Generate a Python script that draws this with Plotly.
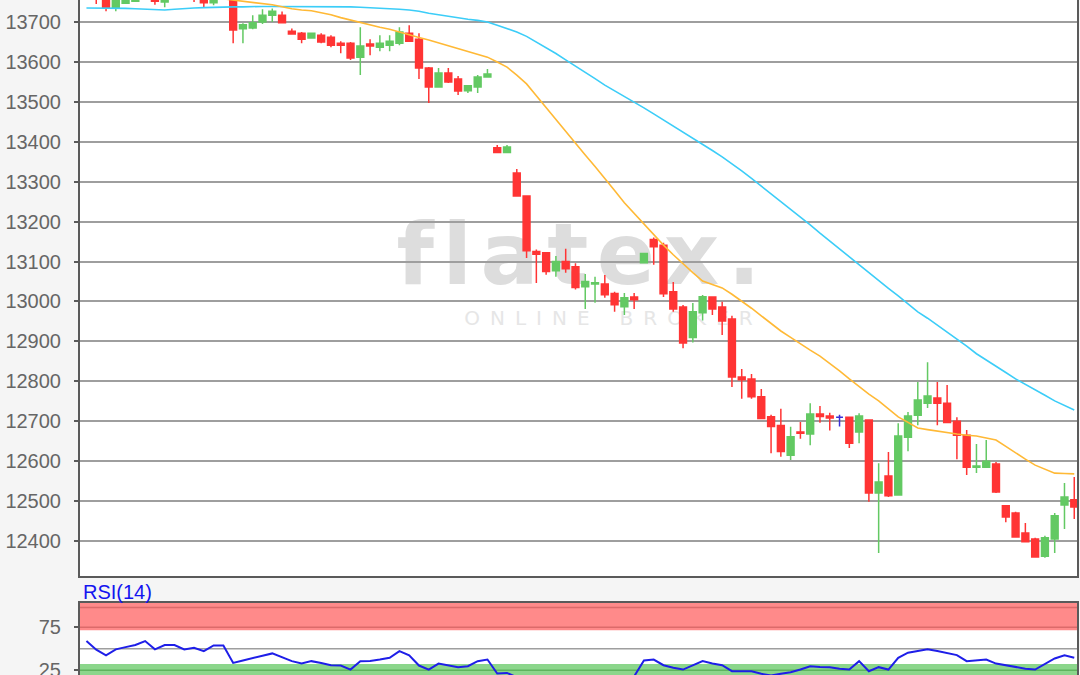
import plotly.graph_objects as go

# ---------------- data ----------------
open_ = [13790, 13790, 13770, 13735, 13747, 13752, 13770, 13775, 13750, 13772,
         13790, 13775, 13775, 13748, 13770, 13775, 13683, 13685, 13700, 13717,
         13717, 13677, 13672, 13660, 13667, 13662, 13647, 13647, 13612, 13645,
         13637, 13642, 13647, 13672, 13657, 13585, 13537, 13572, 13557, 13528,
         13537, 13562, 13385, 13373, 13322, 13264, 13125, 13122, 13077, 13100,
         13087, 13037, 13044, 13044, 13020, 12987, 13011, 13097, 13155, 13141,
         13024, 12986, 12910, 12972, 13011, 12986, 12956, 12811, 12806, 12761,
         12711, 12689, 12615, 12673, 12668, 12718, 12713, 12710, 12710, 12673,
         12703, 12520, 12563, 12515, 12660, 12715, 12745, 12758, 12745, 12700,
         12665, 12585, 12585, 12593, 12488, 12470, 12420, 12405, 12362, 12405,
         12490, 12503]
high = [13800, 13800, 13780, 13770, 13772, 13778, 13790, 13785, 13782, 13795,
        13800, 13785, 13785, 13780, 13790, 13785, 13697, 13717, 13732, 13734,
        13726, 13684, 13675, 13673, 13672, 13667, 13652, 13650, 13687, 13657,
        13667, 13667, 13687, 13692, 13672, 13587, 13585, 13585, 13565, 13542,
        13567, 13582, 13392, 13392, 13332, 13265, 13130, 13124, 13114, 13132,
        13096, 13069, 13062, 13066, 13024, 13021, 13021, 13121, 13160, 13147,
        13049, 12991, 12996, 13016, 13012, 12999, 12964, 12831, 12818, 12781,
        12716, 12731, 12686, 12698, 12745, 12738, 12721, 12716, 12712, 12720,
        12705, 12595, 12623, 12695, 12723, 12798, 12848, 12798, 12791, 12710,
        12678, 12643, 12653, 12598, 12488, 12473, 12445, 12408, 12413, 12470,
        12545, 12560]
low = [13770, 13745, 13727, 13727, 13745, 13750, 13762, 13743, 13737, 13765,
       13768, 13750, 13737, 13742, 13765, 13647, 13647, 13682, 13695, 13700,
       13698, 13669, 13647, 13659, 13647, 13637, 13622, 13605, 13567, 13617,
       13627, 13627, 13642, 13650, 13557, 13497, 13535, 13547, 13517, 13522,
       13522, 13562, 13372, 13372, 13262, 13109, 13046, 13067, 13062, 13072,
       13030, 12981, 12997, 13009, 12974, 12966, 12981, 13096, 13092, 13011,
       12974, 12883, 12897, 12952, 12966, 12916, 12786, 12756, 12756, 12706,
       12620, 12611, 12603, 12656, 12640, 12696, 12677, 12687, 12633, 12645,
       12498, 12370, 12510, 12515, 12625, 12690, 12733, 12690, 12695, 12605,
       12565, 12570, 12585, 12520, 12447, 12410, 12398, 12358, 12358, 12370,
       12430, 12455]
close = [13780, 13765, 13737, 13760, 13765, 13770, 13780, 13752, 13772, 13785,
         13775, 13758, 13748, 13770, 13782, 13680, 13693, 13698, 13717, 13727,
         13698, 13670, 13657, 13672, 13650, 13642, 13642, 13610, 13640, 13640,
         13647, 13652, 13675, 13652, 13585, 13537, 13572, 13550, 13527, 13540,
         13562, 13570, 13373, 13387, 13264, 13127, 13118, 13075, 13100, 13082,
         13035, 13050, 13047, 13017, 12992, 13009, 13004, 13120, 13137, 13019,
         12981, 12896, 12974, 13012, 12981, 12951, 12811, 12804, 12761, 12707,
         12687, 12624, 12661, 12670, 12718, 12712, 12708, 12710, 12645, 12713,
         12520, 12548, 12513, 12663, 12713, 12753, 12763, 12745, 12697, 12665,
         12585, 12588, 12600, 12523, 12460, 12410, 12398, 12360, 12408, 12463,
         12510, 12485]
ma_orange = [13800, 13797, 13794, 13791, 13788, 13785, 13782, 13779, 13776, 13773,
             13770, 13767, 13764, 13761, 13758, 13755, 13752, 13748, 13746, 13743,
             13738, 13733, 13730, 13728, 13723, 13718, 13711, 13705, 13698, 13692,
             13687, 13682, 13675, 13667, 13661, 13655, 13648, 13642, 13635, 13627,
             13620, 13612, 13600, 13587, 13567, 13545, 13515, 13485, 13456, 13427,
             13397, 13367, 13338, 13309, 13278, 13247, 13220, 13194, 13167, 13141,
             13117, 13094, 13072, 13051, 13042, 13034, 13018, 13001, 12983, 12964,
             12945, 12926, 12910, 12893, 12878, 12863, 12845, 12826, 12806, 12786,
             12768, 12751, 12731, 12711, 12697, 12683, 12679, 12675, 12671, 12668,
             12665, 12663, 12658, 12653, 12637, 12620, 12605, 12590, 12580, 12570,
             12569, 12568]
ma_cyan = [13735, 13735, 13735, 13735, 13734, 13733, 13732, 13730, 13730, 13732,
           13734, 13735, 13736, 13737, 13737, 13738, 13738, 13739, 13739, 13739,
           13739, 13739, 13739, 13739, 13739, 13739, 13739, 13738, 13737, 13736,
           13735, 13734, 13732, 13730, 13727, 13722, 13718, 13715, 13711, 13707,
           13704, 13700, 13692, 13684, 13675, 13664, 13650, 13636, 13621, 13605,
           13590, 13575, 13558, 13542, 13528, 13515, 13500, 13485, 13470, 13455,
           13440, 13424, 13409, 13394, 13378, 13362, 13345, 13327, 13308, 13289,
           13269, 13249, 13231, 13212, 13192, 13171, 13151, 13131, 13111, 13091,
           13071, 13051, 13033, 13014, 12994, 12974, 12958, 12941, 12924, 12906,
           12888, 12869, 12854, 12838, 12822, 12806, 12793, 12779, 12765, 12751,
           12740, 12728]
rsi = [59.0, 49.0, 42.4, 49.4, 52.0, 54.5, 59.0, 49.4, 54.4, 54.4,
       49.4, 51.3, 47.4, 54.0, 54.0, 33.7, 36.5, 39.6, 42.0, 44.7,
       40.0, 35.7, 32.9, 35.7, 33.5, 31.0, 30.6, 25.9, 35.7, 36.0,
       37.5, 39.6, 47.4, 42.4, 30.6, 25.9, 32.9, 30.5, 28.7, 29.8,
       35.7, 37.6, 21.3, 22.0, 17.0, 12.0, 12.0, 11.0, 12.0, 12.0,
       10.0, 11.0, 11.0, 10.0, 9.0, 10.0, 18.0, 36.5, 37.6, 31.0,
       28.0, 25.9, 31.0, 35.7, 33.0, 31.0, 24.0, 24.0, 24.0, 21.0,
       19.0, 21.0, 22.8, 26.0, 29.8, 29.0, 28.7, 27.0, 25.9, 35.7,
       24.0, 28.7, 25.9, 39.6, 45.5, 47.5, 49.4, 47.5, 45.5, 42.7,
       35.7, 36.5, 37.6, 32.9, 31.0, 28.7, 27.0, 25.9, 32.0, 38.8,
       42.4, 39.6]
price_ticks = [12400, 12500, 12600, 12700, 12800, 12900, 13000,
               13100, 13200, 13300, 13400, 13500, 13600, 13700]
rsi_ticks = [25, 75]
rsi_levels = {"upper_band": [71.5, 103.3], "lower_band": [19.6, 32.3],
              "upper_lines": [98, 75], "mid_line": 50, "lower_line": 25}

# ---------------- figure ----------------
bar_index = list(range(len(open_)))
is_doji = [o == c for o, c in zip(open_, close)]


def pick(values, keep):
    return [v if k else None for v, k in zip(values, keep)]


regular = [not d for d in is_doji]

RED = "#ff3434"
GREEN = "#63c963"
DOJI = "#3b2fd6"
AXIS = "#5a5a5a"
GRID = "#9e9e9e"
FONT = "Liberation Sans, Arial, sans-serif"

fig = go.Figure()

fig.add_trace(go.Candlestick(
    x=bar_index,
    open=pick(open_, regular), high=pick(high, regular),
    low=pick(low, regular), close=pick(close, regular),
    increasing=dict(line=dict(color=GREEN, width=1.5), fillcolor=GREEN),
    decreasing=dict(line=dict(color=RED, width=1.5), fillcolor=RED),
    xaxis="x", yaxis="y", hoverinfo="skip", showlegend=False))
fig.add_trace(go.Candlestick(
    x=bar_index,
    open=pick(open_, is_doji), high=pick(high, is_doji),
    low=pick(low, is_doji), close=pick(close, is_doji),
    increasing=dict(line=dict(color=DOJI, width=1.5), fillcolor=DOJI),
    decreasing=dict(line=dict(color=DOJI, width=1.5), fillcolor=DOJI),
    xaxis="x", yaxis="y", hoverinfo="skip", showlegend=False))
fig.add_trace(go.Scatter(x=bar_index, y=ma_cyan, mode="lines",
                         line=dict(color="#3ccdf8", width=1.6),
                         xaxis="x", yaxis="y", hoverinfo="skip"))
fig.add_trace(go.Scatter(x=bar_index, y=ma_orange, mode="lines",
                         line=dict(color="#ffb936", width=1.6),
                         xaxis="x", yaxis="y", hoverinfo="skip"))
fig.add_trace(go.Scatter(x=bar_index, y=rsi, mode="lines",
                         line=dict(color="#1e1ee8", width=2),
                         xaxis="x2", yaxis="y2", hoverinfo="skip"))

shapes = [
    # watermark (below gridlines and candles)
    dict(type="rect", xref="x domain", yref="y domain", x0=0.30, x1=0.70,
         y0=0.52, y1=0.62, line=dict(width=0), fillcolor="rgba(0,0,0,0)",
         layer="below",
         label=dict(text="<b>f\u200al\u200aa\u200at\u200ae\u200ax\u200a.</b>",
                    textposition="middle center",
                    font=dict(family="DejaVu Sans", size=86, color="#dddddd"))),
    dict(type="rect", xref="x domain", yref="y domain", x0=0.33, x1=0.73,
         y0=0.43, y1=0.47, line=dict(width=0), fillcolor="rgba(0,0,0,0)",
         layer="below",
         label=dict(text="O\u2002N\u2002L\u2002I\u2002N\u2002E\u2003\u2002B\u2002R\u2002O\u2002K\u2002E\u2002R",
                    textposition="middle center",
                    font=dict(family="DejaVu Sans", size=20, color="#e6e6e6"))),
    # RSI bands and levels
    dict(type="rect", xref="x2 domain", yref="y2", x0=0, x1=1,
         y0=rsi_levels["upper_band"][0], y1=rsi_levels["upper_band"][1],
         line=dict(width=0), fillcolor="#ff8a8a", layer="below"),
    dict(type="rect", xref="x2 domain", yref="y2", x0=0, x1=1,
         y0=rsi_levels["lower_band"][0], y1=rsi_levels["lower_band"][1],
         line=dict(width=0), fillcolor="#8bd68b", layer="below"),
]
for lv in rsi_levels["upper_lines"]:
    shapes.append(dict(type="line", xref="x2 domain", yref="y2", x0=0, x1=1,
                       y0=lv, y1=lv, line=dict(color="#dc6a6a", width=1.5),
                       layer="below"))
shapes.append(dict(type="line", xref="x2 domain", yref="y2", x0=0, x1=1,
                   y0=rsi_levels["mid_line"], y1=rsi_levels["mid_line"],
                   line=dict(color=GRID, width=1.5), layer="below"))
shapes.append(dict(type="line", xref="x2 domain", yref="y2", x0=0, x1=1,
                   y0=rsi_levels["lower_line"], y1=rsi_levels["lower_line"],
                   line=dict(color="#5eb45e", width=1.5), layer="below"))

fig.update_layout(
    width=1080, height=675,
    margin=dict(l=80, r=3, t=0, b=0, autoexpand=False),
    paper_bgcolor="#f5f5f5", plot_bgcolor="#ffffff",
    showlegend=False,
    boxgap=0.3, boxgroupgap=0,
    shapes=shapes,
    xaxis=dict(domain=[0, 1], range=[-0.66, 101.28], anchor="y",
               showline=True, linecolor=AXIS, linewidth=2,
               showgrid=False, zeroline=False, showticklabels=False,
               ticks="", rangeslider=dict(visible=False), automargin=False),
    yaxis=dict(domain=[0.14667, 1], range=[12312.3, 13755.1], anchor="x",
               tickvals=price_ticks, ticktext=[str(t) for t in price_ticks],
               ticks="outside", ticklen=4, tickwidth=1.5, tickcolor=AXIS,
               showline=True, mirror=True, linecolor=AXIS, linewidth=2,
               showgrid=True, gridcolor=GRID, gridwidth=1.5, zeroline=False,
               tickfont=dict(family=FONT, size=20, color="#666666"),
               ticklabelstandoff=9, ticklabeloverflow="allow",
               automargin=False),
    xaxis2=dict(domain=[0, 1], range=[-0.66, 101.28], anchor="y2",
                side="top", showline=True, linecolor=AXIS, linewidth=2,
                showgrid=False, zeroline=False, showticklabels=False,
                ticks="", automargin=False),
    yaxis2=dict(domain=[0, 0.10667], range=[19.6, 103.3], anchor="x2",
                tickvals=rsi_ticks, ticktext=[str(t) for t in rsi_ticks],
                ticks="outside", ticklen=4, tickwidth=1.5, tickcolor=AXIS,
                showline=True, mirror=True, linecolor=AXIS, linewidth=2,
                showgrid=False, zeroline=False,
                tickfont=dict(family=FONT, size=20, color="#666666"),
                ticklabelstandoff=9, ticklabeloverflow="allow",
                automargin=False),
    annotations=[dict(text="RSI(14)", xref="paper", yref="paper",
                      x=0, y=0.123, xanchor="left", yanchor="middle",
                      xshift=1, showarrow=False,
                      font=dict(family=FONT, size=20, color="#1414f0"))],
)

fig.write_html("out.html",
               config={"displayModeBar": False},
               post_script="document.body.style.margin='0';"
                           "document.body.style.overflow='hidden';")
